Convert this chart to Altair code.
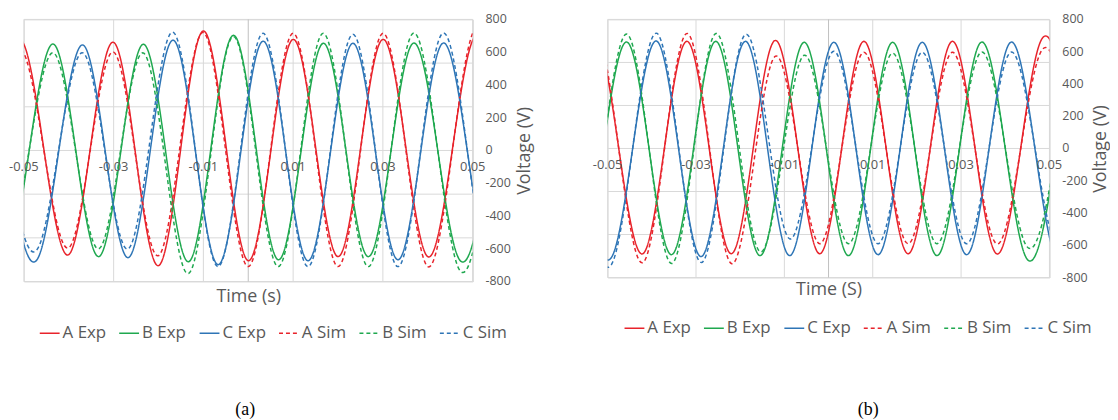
import altair as alt
import pandas as pd

FONT = "Open Sans"
GRAY = "#595959"
GRID = "#d9d9d9"

series_names = ["A Exp", "B Exp", "C Exp", "A Sim", "B Sim", "C Sim"]
series_colors = ["#e8232b", "#1fa84f", "#2e75b6", "#e8232b", "#1fa84f", "#2e75b6"]
series_dash = [[1, 0], [1, 0], [1, 0], [4, 3], [4, 3], [4, 3]]

x_ticks = [-0.05, -0.03, -0.01, 0.01, 0.03, 0.05]
x_tick_labels = ["-0.05", "-0.03", "-0.01", "0.01", "0.03", "0.05"]
y_ticks = [-800, -600, -400, -200, 0, 200, 400, 600, 800]
y_tick_labels = ["-800", "-600", "-400", "-200", "0", "200", "400", "600", "800"]
y_grid = [-800, -533.33, -266.67, 0, 266.67, 533.33, 800]

# ---------- panel (a): extrema (time s, voltage V)
a_tA = [-0.06, -0.05, -0.04, -0.03, -0.02, -0.01, 0.0, 0.01, 0.02, 0.03, 0.04, 0.05, 0.06]
a_A_exp = [-640, 648, -636, 660, -703, 729, -673, 678, -648, 678, -648, 672, -648]
a_A_sim = [-594, 594, -594, 600, -642, 720, -709, 715, -709, 715, -709, 715, -709]

a_tB = [-0.0633, -0.0533, -0.0433, -0.0333, -0.0233, -0.0133, -0.0033, 0.0067, 0.0167, 0.0267, 0.0367, 0.0467, 0.0567]
a_B_exp = [648, -648, 648, -648, 648, -679, 703, -667, 654, -648, 654, -648, 654]
a_B_sim = [594, -594, 594, -600, 594, -751, 695, -709, 715, -709, 715, -709, 715]

a_tC = [-0.0567, -0.0467, -0.0367, -0.0267, -0.0167, -0.0067, 0.0033, 0.0133, 0.0233, 0.0333, 0.0433, 0.0533, 0.0633]
a_C_exp = [642, -648, 642, -654, 673, -697, 667, -673, 654, -667, 654, -660, 654]
a_C_sim = [594, -588, 594, -600, 721, -709, 715, -709, 709, -709, 715, -709, 715]

# ---------- panel (b)
b_tA = [-0.062, -0.052, -0.042, -0.032, -0.022, -0.012, -0.002, 0.008, 0.018, 0.028, 0.038, 0.048, 0.058]
b_A_exp = [-652, 664, -652, 664, -652, 670, -652, 664, -652, 664, -652, 664, -652]
b_A_sim = [-707, 713, -707, 713, -713, 572, -590, 596, -590, 596, -590, 596, -590]

b_tB = [-0.0655, -0.0555, -0.0455, -0.0355, -0.0255, -0.0155, -0.0055, 0.0045, 0.0145, 0.0245, 0.0345, 0.0445, 0.0545]
b_B_exp = [658, -658, 658, -658, 664, -664, 658, -664, 658, -664, 658, -664, 658]
b_B_sim = [707, -713, 707, -713, 713, -640, 578, -590, 590, -590, 596, -590, 596]

b_tC = [-0.0588, -0.0488, -0.0388, -0.0288, -0.0188, -0.0088, 0.0012, 0.0112, 0.0212, 0.0312, 0.0412, 0.0512, 0.0612]
b_C_exp = [664, -658, 664, -670, 664, -664, 658, -658, 658, -658, 658, -660, 658]
b_C_sim = [713, -701, 713, -707, 707, -560, 603, -590, 596, -590, 596, -590, 596]


def long_df(items):
    rows = []
    for name, ts, vs in items:
        for t, v in zip(ts, vs):
            rows.append({"series": name, "t": t, "v": v})
    return pd.DataFrame(rows)


df_a = long_df([
    ("A Exp", a_tA, a_A_exp), ("B Exp", a_tB, a_B_exp), ("C Exp", a_tC, a_C_exp),
    ("A Sim", a_tA, a_A_sim), ("B Sim", a_tB, a_B_sim), ("C Sim", a_tC, a_C_sim),
])
df_b = long_df([
    ("A Exp", b_tA, b_A_exp), ("B Exp", b_tB, b_B_exp), ("C Exp", b_tC, b_C_exp),
    ("A Sim", b_tA, b_A_sim), ("B Sim", b_tB, b_B_sim), ("C Sim", b_tC, b_C_sim),
])


def panel(df, xtitle, caption, w, h, legend_x, legend_y, title_pad, y_title_pad, cap_dx, cap_offset):
    xs = alt.Scale(domain=[-0.05, 0.05], nice=False, zero=False)
    ys = alt.Scale(domain=[-800, 800], nice=False, zero=False)
    xax = alt.Axis(title=xtitle, labels=False, ticks=False, domain=False, grid=False,
                   titleFont=FONT, titleFontSize=18, titleFontWeight="normal",
                   titleColor=GRAY, titlePadding=title_pad)
    yax = alt.Axis(orient="right", title="Voltage (V)", labels=False, ticks=False,
                   grid=False, domainColor=GRID,
                   titleFont=FONT, titleFontSize=18,
                   titleFontWeight="normal", titleColor=GRAY, titleAngle=270,
                   titlePadding=y_title_pad)

    vgrid = alt.Chart(pd.DataFrame({"t": x_ticks})).mark_rule(color=GRID, strokeWidth=1).encode(
        x=alt.X("t:Q", scale=xs, axis=xax))
    hgrid = alt.Chart(pd.DataFrame({"v": y_grid})).mark_rule(color=GRID, strokeWidth=1).encode(
        y=alt.Y("v:Q", scale=ys, axis=yax))
    zero_v = alt.Chart(pd.DataFrame({"t": [0.0]})).mark_rule(color="#bfbfbf", strokeWidth=1).encode(
        x=alt.X("t:Q", scale=xs, axis=xax))

    leg = alt.Legend(orient="none", legendX=legend_x, legendY=legend_y, direction="horizontal",
                     title=None, symbolType="stroke", symbolSize=400, symbolStrokeWidth=1.5,
                     labelFont=FONT, labelFontSize=17, labelColor=GRAY, labelOffset=2,
                     columnPadding=10, columns=6)

    lines = alt.Chart(df).mark_line(interpolate="natural", clip=True, strokeWidth=1.5).encode(
        x=alt.X("t:Q", scale=xs, axis=xax),
        y=alt.Y("v:Q", scale=ys, axis=yax),
        color=alt.Color("series:N", scale=alt.Scale(domain=series_names, range=series_colors), legend=leg),
        strokeDash=alt.StrokeDash("series:N", scale=alt.Scale(domain=series_names, range=series_dash), legend=leg),
        order=alt.Order("t:Q"),
    )

    xlabels = alt.Chart(pd.DataFrame({"t": x_ticks, "lab": x_tick_labels})).mark_text(
        dy=17, font=FONT, fontSize=13, color=GRAY).encode(
        x=alt.X("t:Q", scale=xs, axis=xax), y=alt.datum(0), text="lab:N")

    ylabels = alt.Chart(pd.DataFrame({"v": y_ticks, "lab": y_tick_labels})).mark_text(
        dx=13, align="left", baseline="middle", font=FONT, fontSize=12.5, color=GRAY).encode(
        x=alt.datum(0.05), y=alt.Y("v:Q", scale=ys, axis=yax), text="lab:N")

    return alt.layer(vgrid, hgrid, zero_v, lines, xlabels, ylabels).properties(
        width=w, height=h,
        title=alt.TitleParams(caption, orient="bottom", anchor="middle", font="Liberation Serif",
                              fontSize=18, fontWeight="normal", color="black", offset=cap_offset,
                              dx=cap_dx))


pa = panel(df_a, "Time (s)", "(a)", 452, 264, 15, 305, 6, 61, -3, 60)
pb = panel(df_b, "Time (S)", "(b)", 445, 260, 16, 300, 3, 60, 40, 65)

chart = alt.hconcat(pa, pb, spacing=58).resolve_scale(
    color="independent", strokeDash="independent", x="independent", y="independent"
).resolve_legend(color="independent", strokeDash="independent").properties(
    padding={"left": 0, "top": 3, "right": 0, "bottom": 0}
).configure_view(stroke=None).configure(background="white")

chart.save("out.html", embed_options={"renderer": "svg", "actions": False})
